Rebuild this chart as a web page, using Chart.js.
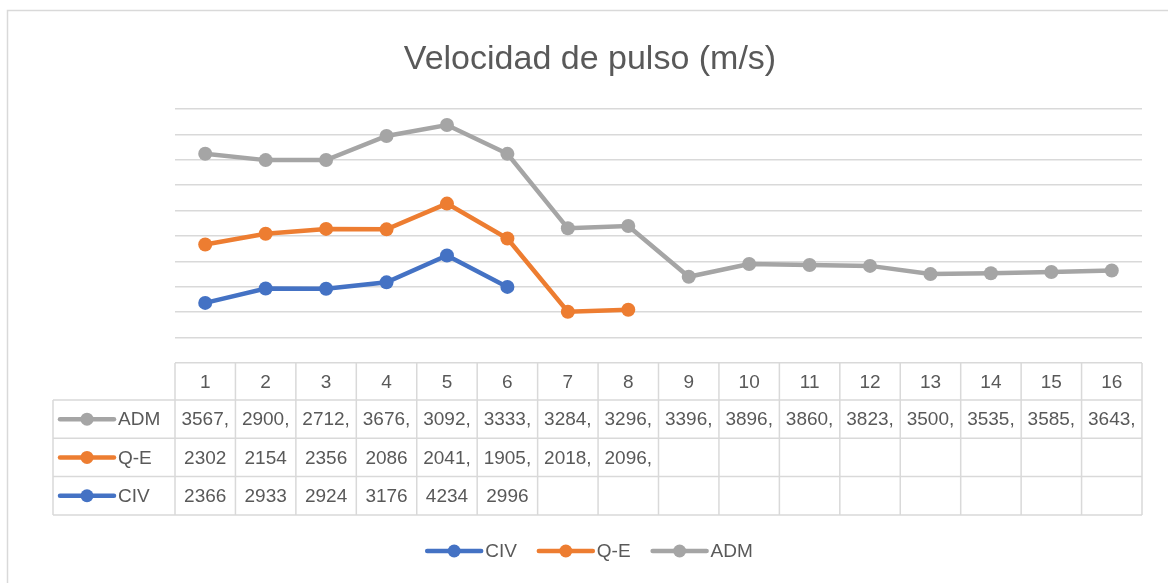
<!DOCTYPE html>
<html>
<head>
<meta charset="utf-8">
<title>Velocidad de pulso (m/s)</title>
<script src="https://cdn.jsdelivr.net/npm/chart.js@4.4.1/dist/chart.umd.min.js"></script>
<style>
    html, body { margin: 0; padding: 0; background: #ffffff; }
    #chartBox { width: 1168px; height: 583px; }
</style>
</head>
<body>
<div id="chartBox"><canvas id="pulseChart"></canvas></div>
<script>
// ======================================
// Data
// ======================================

const chartTitle = "Velocidad de pulso (m/s)";

const categories = ["1", "2", "3", "4", "5", "6", "7", "8",
    "9", "10", "11", "12", "13", "14", "15", "16"];

// values with a decimal part show as "3567," in the table (cell too narrow)
const civValues = [2366, 2933, 2924, 3176, 4234, 2996,
    null, null, null, null, null, null, null, null, null, null];

const qeValues = [2302, 2154, 2356, 2086, 2041.5, 1905.5, 2018.5, 2096.5,
    null, null, null, null, null, null, null, null];

const admValues = [3567.5, 2900.5, 2712.5, 3676.5, 3092.5, 3333.5, 3284.5, 3296.5,
    3396.5, 3896.5, 3860.5, 3823.5, 3500.5, 3535.5, 3585.5, 3643.5];

const seriesNames = ["CIV", "Q-E", "ADM"];

const axisMin = 0;
const axisMax = 10000;
const axisStep = 1000;

// ======================================
// Styles
// ======================================

const seriesColors = ["#4472C4", "#ED7D31", "#A5A5A5"];

const textColor = "#595959";
const lineColor = "#D9D9D9";
const fontFamily = "'Liberation Sans', Arial, sans-serif";

// ======================================
// Helpers
// ======================================

function formatCell(value) {

    if (value === null || value === undefined) return "";

    return Number.isInteger(value) ? String(value) : Math.trunc(value) + ",";

}

function drawKey(ctx, x, y, color) {

    ctx.strokeStyle = color;
    ctx.lineWidth = 4.5;
    ctx.lineCap = "round";
    ctx.beginPath();
    ctx.moveTo(x, y);
    ctx.lineTo(x + 54, y);
    ctx.stroke();

    ctx.fillStyle = color;
    ctx.beginPath();
    ctx.arc(x + 27, y, 6.5, 0, Math.PI * 2);
    ctx.fill();

}

// ======================================
// Frame, title, data table and legend
// ======================================

const tablePlugin = {

    id: "dataTable",

    beforeDraw(chart) {

        const ctx = chart.ctx;

        ctx.save();
        ctx.strokeStyle = lineColor;
        ctx.lineWidth = 1.5;
        ctx.strokeRect(7.5, 10.5, 1200, 700);

        ctx.fillStyle = textColor;
        ctx.font = "34px " + fontFamily;
        ctx.textAlign = "center";
        ctx.textBaseline = "alphabetic";
        ctx.fillText(chartTitle, 590, 69);
        ctx.restore();

    },

    afterDraw(chart) {

        const ctx = chart.ctx;
        const area = chart.chartArea;
        const xScale = chart.scales.x;
        const colWidth = (area.right - area.left) / categories.length;

        const tableLeft = 53;
        const headTop = area.bottom;
        const headBottom = headTop + 37;
        const rowHeight = 38.3;

        const rows = [
            { name: seriesNames[2], color: seriesColors[2], values: admValues },
            { name: seriesNames[1], color: seriesColors[1], values: qeValues },
            { name: seriesNames[0], color: seriesColors[0], values: civValues }
        ];

        const tableBottom = headBottom + rows.length * rowHeight;

        ctx.save();

        // grid of the table
        ctx.strokeStyle = lineColor;
        ctx.lineWidth = 1.5;
        ctx.beginPath();

        for (let i = 0; i <= categories.length; i++) {
            const x = area.left + i * colWidth;
            ctx.moveTo(x, headTop);
            ctx.lineTo(x, tableBottom);
        }

        ctx.moveTo(tableLeft, headBottom);
        ctx.lineTo(tableLeft, tableBottom);

        for (let r = 0; r <= rows.length; r++) {
            const y = headBottom + r * rowHeight;
            ctx.moveTo(tableLeft, y);
            ctx.lineTo(area.right, y);
        }

        ctx.stroke();

        // header labels
        ctx.fillStyle = textColor;
        ctx.font = "19px " + fontFamily;
        ctx.textAlign = "center";
        ctx.textBaseline = "middle";

        categories.forEach((label, i) => {
            ctx.fillText(label, xScale.getPixelForValue(i), (headTop + headBottom) / 2 + 1);
        });

        // series rows
        rows.forEach((row, r) => {

            const y = headBottom + r * rowHeight + rowHeight / 2;

            drawKey(ctx, 60, y, row.color);

            ctx.fillStyle = textColor;
            ctx.textAlign = "left";
            ctx.fillText(row.name, 118, y + 1);

            ctx.textAlign = "center";
            row.values.forEach((value, i) => {
                ctx.fillText(formatCell(value), xScale.getPixelForValue(i), y + 1);
            });

        });

        // legend
        const legendY = 551;
        const keyWidth = 54;
        const gap = 22;

        let total = 0;
        const widths = seriesNames.map((name) => {
            const w = keyWidth + 4 + ctx.measureText(name).width;
            total += w;
            return w;
        });
        total += gap * (seriesNames.length - 1);

        let x = 590 - total / 2;

        seriesNames.forEach((name, i) => {
            drawKey(ctx, x, legendY, seriesColors[i]);
            ctx.fillStyle = textColor;
            ctx.textAlign = "left";
            ctx.fillText(name, x + keyWidth + 4, legendY + 1);
            x += widths[i] + gap;
        });

        ctx.restore();

    }

};

// ======================================
// Chart
// ======================================

function makeDataset(index, values) {

    return {
        label: seriesNames[index],
        data: values,
        borderColor: seriesColors[index],
        backgroundColor: seriesColors[index],
        borderWidth: 4.5,
        pointRadius: 7,
        pointHoverRadius: 7,
        pointBorderWidth: 0,
        pointBackgroundColor: seriesColors[index],
        tension: 0,
        fill: false
    };

}

const pulseChart = new Chart(document.getElementById("pulseChart"), {

    type: "line",

    data: {
        labels: categories,
        datasets: [
            makeDataset(0, civValues),
            makeDataset(1, qeValues),
            makeDataset(2, admValues)
        ]
    },

    options: {

        responsive: true,
        maintainAspectRatio: false,
        animation: false,
        devicePixelRatio: 1,

        layout: {
            padding: { left: 175, right: 26, top: 109, bottom: 220 }
        },

        plugins: {
            legend: { display: false },
            tooltip: { enabled: false },
            title: { display: false }
        },

        scales: {
            x: {
                type: "category",
                display: false,
                offset: true
            },
            y: {
                stacked: true,
                min: axisMin,
                max: axisMax,
                ticks: { display: false, stepSize: axisStep },
                grid: { color: lineColor, lineWidth: 1.5, drawTicks: false },
                border: { display: false }
            }
        }

    },

    plugins: [tablePlugin]

});
</script>
</body>
</html>
